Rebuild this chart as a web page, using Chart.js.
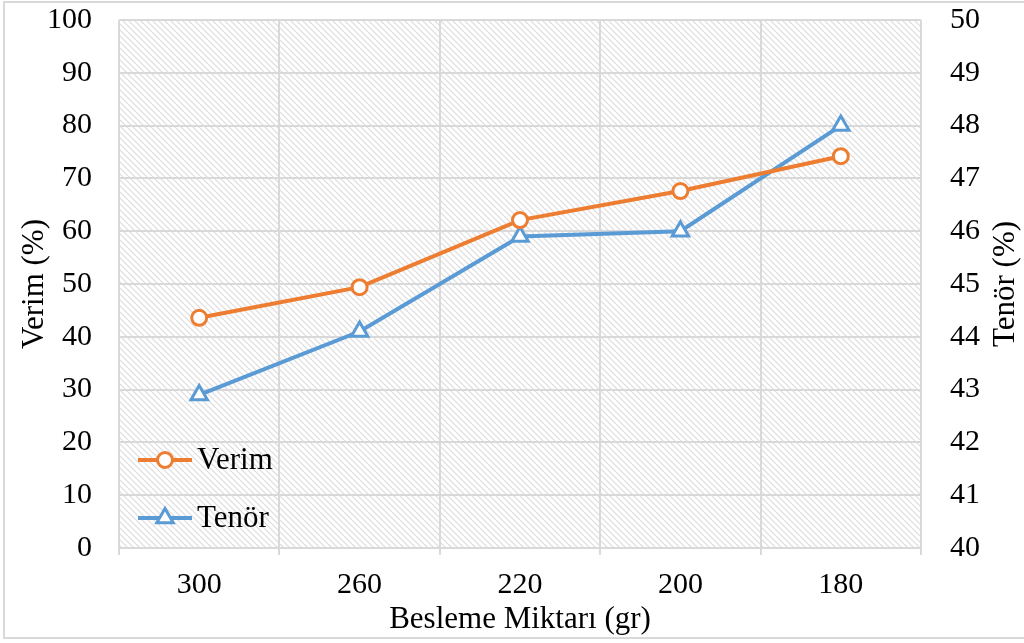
<!DOCTYPE html>
<html lang="tr">
<head>
    <meta charset="UTF-8">
    <title>Verim ve Tenör</title>
    <style>
        html, body {
            margin: 0;
            padding: 0;
            background: #fff;
        }
        .frame {
            position: absolute;
            left: 3px;
            top: 1px;
            width: 1030px;
            height: 634px;
            border: 2px solid #d9d9d9;
        }
        .chart-box {
            position: absolute;
            left: 0;
            top: 0;
            width: 1024px;
            height: 643px;
        }
    </style>
</head>
<body>
    <div class="frame"></div>
    <div class="chart-box">
        <canvas id="chart" width="1024" height="643"></canvas>
    </div>

    <script src="https://cdn.jsdelivr.net/npm/chart.js"></script>
    <script>
        // besleme miktarı (gr)
        const categories = ['300', '260', '220', '200', '180'];
        // Verim (%) - sol eksen
        const verim = [43.6, 49.4, 62.1, 67.6, 74.2];
        // Tenör (%) - sağ eksen
        const tenor = [42.9, 44.1, 45.9, 46.0, 48.0];

        const FONT = "'Liberation Serif', 'Times New Roman', serif";
        const GRID = '#d9d9d9';
        const TICK_SIZE = 30;
        const TITLE_SIZE = 31;

        // çizim alanı için çapraz tarama deseni
        function makeHatch() {
            const c = document.createElement('canvas');
            c.width = 6;
            c.height = 6;
            const g = c.getContext('2d');
            g.fillStyle = '#ffffff';
            g.fillRect(0, 0, 6, 6);
            g.strokeStyle = '#dcdcdc';
            g.lineWidth = 1.2;
            g.beginPath();
            g.moveTo(-1, -1); g.lineTo(7, 7);
            g.moveTo(-4, 2); g.lineTo(4, 10);
            g.moveTo(2, -4); g.lineTo(10, 4);
            g.stroke();
            return c;
        }

        const hatchBg = {
            id: 'hatchBg',
            beforeDraw(chart) {
                const { ctx, chartArea: a } = chart;
                ctx.save();
                ctx.fillStyle = ctx.createPattern(makeHatch(), 'repeat');
                ctx.fillRect(a.left, a.top, a.right - a.left, a.bottom - a.top);
                ctx.restore();
            }
        };

        // eksen başlıkları ve grafik içi açıklama
        const extras = {
            id: 'extras',
            afterDraw(chart) {
                const { ctx, chartArea: a } = chart;
                ctx.save();
                ctx.fillStyle = '#000';
                ctx.font = TITLE_SIZE + 'px ' + FONT;
                ctx.textAlign = 'center';
                ctx.textBaseline = 'middle';
                ctx.fillText('Besleme Miktarı (gr)', (a.left + a.right) / 2, 620);

                ctx.save();
                ctx.translate(35, (a.top + a.bottom) / 2);
                ctx.rotate(-Math.PI / 2);
                ctx.fillText('Verim (%)', 0, 0);
                ctx.restore();

                ctx.save();
                ctx.translate(1006, (a.top + a.bottom) / 2);
                ctx.rotate(-Math.PI / 2);
                ctx.fillText('Tenör (%)', 0, 0);
                ctx.restore();

                // açıklama
                const rows = [460, 518];
                chart.data.datasets.forEach((ds, i) => {
                    const y = rows[i];
                    ctx.strokeStyle = ds.borderColor;
                    ctx.lineWidth = ds.borderWidth;
                    ctx.beginPath();
                    ctx.moveTo(138, y);
                    ctx.lineTo(192, y);
                    ctx.stroke();
                    ctx.fillStyle = ds.pointBackgroundColor;
                    ctx.strokeStyle = ds.borderColor;
                    ctx.lineWidth = ds.pointBorderWidth;
                    Chart.helpers.drawPoint(ctx, {
                        pointStyle: ds.pointStyle,
                        radius: ds.pointRadius,
                        borderWidth: ds.pointBorderWidth
                    }, 165, y);
                    ctx.fillStyle = '#000';
                    ctx.textAlign = 'left';
                    ctx.fillText(ds.label, 197, y + 1);
                });
                ctx.restore();
            }
        };

        // dikey eksenlerin sabit genişliği, üst/alt boşluk yok
        function fixVertical(width) {
            return function (s) {
                s.width = width;
                s.paddingTop = 0;
                s.paddingBottom = 0;
            };
        }

        new Chart(document.getElementById('chart'), {
            type: 'line',
            data: {
                labels: categories,
                datasets: [
                    {
                        label: 'Verim',
                        data: verim,
                        yAxisID: 'y',
                        borderColor: '#ed7d31',
                        borderWidth: 4,
                        pointStyle: 'circle',
                        pointRadius: 7.5,
                        pointBorderWidth: 3,
                        pointBackgroundColor: '#ffffff',
                        pointBorderColor: '#ed7d31',
                        tension: 0
                    },
                    {
                        label: 'Tenör',
                        data: tenor,
                        yAxisID: 'y1',
                        borderColor: '#5b9bd5',
                        borderWidth: 4,
                        pointStyle: 'triangle',
                        pointRadius: 9.5,
                        pointBorderWidth: 3,
                        pointBackgroundColor: '#ffffff',
                        pointBorderColor: '#5b9bd5',
                        tension: 0
                    }
                ]
            },
            options: {
                responsive: false,
                animation: false,
                layout: { padding: { top: 20, left: 0, right: 0, bottom: 0 } },
                plugins: {
                    legend: { display: false },
                    tooltip: { enabled: false }
                },
                scales: {
                    x: {
                        offset: true,
                        grid: { offset: true, color: GRID, lineWidth: 2, tickLength: 7, drawTicks: true },
                        border: { color: GRID, width: 2 },
                        ticks: { color: '#000', font: { family: FONT, size: TICK_SIZE }, padding: 12, maxRotation: 0 },
                        afterFit(s) { s.height = 95; }
                    },
                    y: {
                        position: 'left',
                        min: 0,
                        max: 100,
                        grid: { color: GRID, lineWidth: 2, drawTicks: false },
                        border: { display: false },
                        ticks: { stepSize: 10, color: '#000', font: { family: FONT, size: TICK_SIZE }, padding: 27 },
                        afterFit: fixVertical(119)
                    },
                    y1: {
                        position: 'right',
                        min: 40,
                        max: 50,
                        grid: { display: false, drawTicks: false },
                        border: { display: false },
                        ticks: { stepSize: 1, color: '#000', font: { family: FONT, size: TICK_SIZE }, padding: 29 },
                        afterFit: fixVertical(103)
                    }
                }
            },
            plugins: [hatchBg, extras]
        });
    </script>
</body>
</html>
